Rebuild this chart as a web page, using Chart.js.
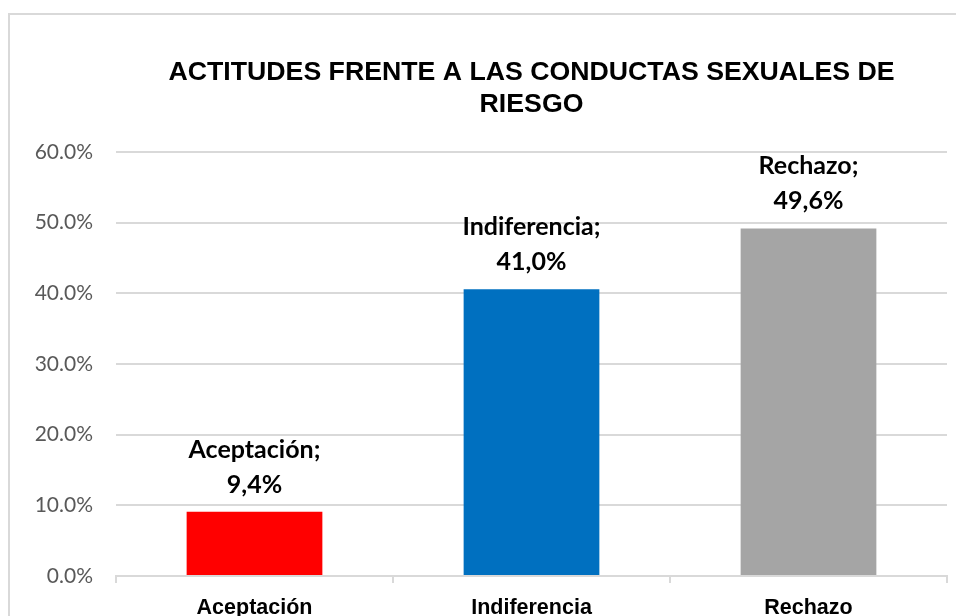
<!DOCTYPE html>
<html>
<head>
<meta charset="utf-8">
<script src="https://cdn.jsdelivr.net/npm/chart.js@4"></script>
<style>
  html, body { margin: 0; padding: 0; background: #fff; overflow: hidden; }
  #frame {
    position: absolute; left: 8px; top: 13px; width: 1100px; height: 700px;
    border: 2px solid #d9d9d9;
  }
  #chart { position: absolute; left: 0; top: 0; }
</style>
</head>
<body>
<div id="frame"></div>
<canvas id="chart" width="956" height="660"></canvas>
<script>
const categories = ['Aceptación', 'Indiferencia', 'Rechazo'];
const values = [0.091, 0.406, 0.492];
const valueLabels = ['9,4%', '41,0%', '49,6%'];
const barColors = ['#FF0000', '#0070C0', '#A5A5A5'];
const titleLines = ['ACTITUDES FRENTE A LAS CONDUCTAS SEXUALES DE', 'RIESGO'];

// data labels "Categoría; valor" above each bar
const barLabels = {
  id: 'barLabels',
  afterDatasetsDraw(chart) {
    const ctx = chart.ctx;
    const meta = chart.getDatasetMeta(0);
    ctx.save();
    ctx.font = 'bold 25px Lato';
    ctx.fillStyle = '#000';
    ctx.textAlign = 'center';
    ctx.textBaseline = 'alphabetic';
    meta.data.forEach((bar, i) => {
      ctx.fillText(categories[i] + ';', bar.x, bar.y - 54);
      ctx.fillText(valueLabels[i], bar.x, bar.y - 19);
    });
    ctx.restore();
  }
};

const ctx = document.getElementById('chart').getContext('2d');
new Chart(ctx, {
  type: 'bar',
  data: {
    labels: categories,
    datasets: [{
      data: values,
      backgroundColor: barColors,
      barPercentage: 0.49,
      categoryPercentage: 1
    }]
  },
  options: {
    responsive: false,
    animation: false,
    layout: { padding: { left: 0, right: 9, top: 0, bottom: 0 } },
    plugins: {
      legend: { display: false },
      tooltip: { enabled: false },
      title: {
        display: true,
        text: titleLines,
        fullSize: false,
        color: '#000',
        font: { family: '"Liberation Sans", Arial', size: 26.7, weight: 'bold', lineHeight: 1.2 },
        padding: { top: 57, bottom: 31 }
      }
    },
    scales: {
      y: {
        min: 0,
        max: 0.6,
        afterFit(scale) { scale.width = 116; },
        ticks: {
          stepSize: 0.1,
          padding: 23,
          color: '#595959',
          font: { family: 'Lato', size: 21 },
          callback: v => (v * 100).toFixed(1) + '%'
        },
        grid: { color: '#d9d9d9', lineWidth: 2, drawTicks: false },
        border: { display: false }
      },
      x: {
        afterFit(scale) { scale.height = 84; },
        ticks: {
          padding: 12,
          color: '#000',
          font: { family: '"Liberation Sans", Arial', size: 21.5, weight: 'bold' }
        },
        grid: {
          offset: true,
          drawOnChartArea: false,
          drawTicks: true,
          tickLength: 7,
          color: '#d9d9d9',
          lineWidth: 2
        },
        border: { color: '#d9d9d9', width: 2 }
      }
    }
  },
  plugins: [barLabels]
});
</script>
</body>
</html>
